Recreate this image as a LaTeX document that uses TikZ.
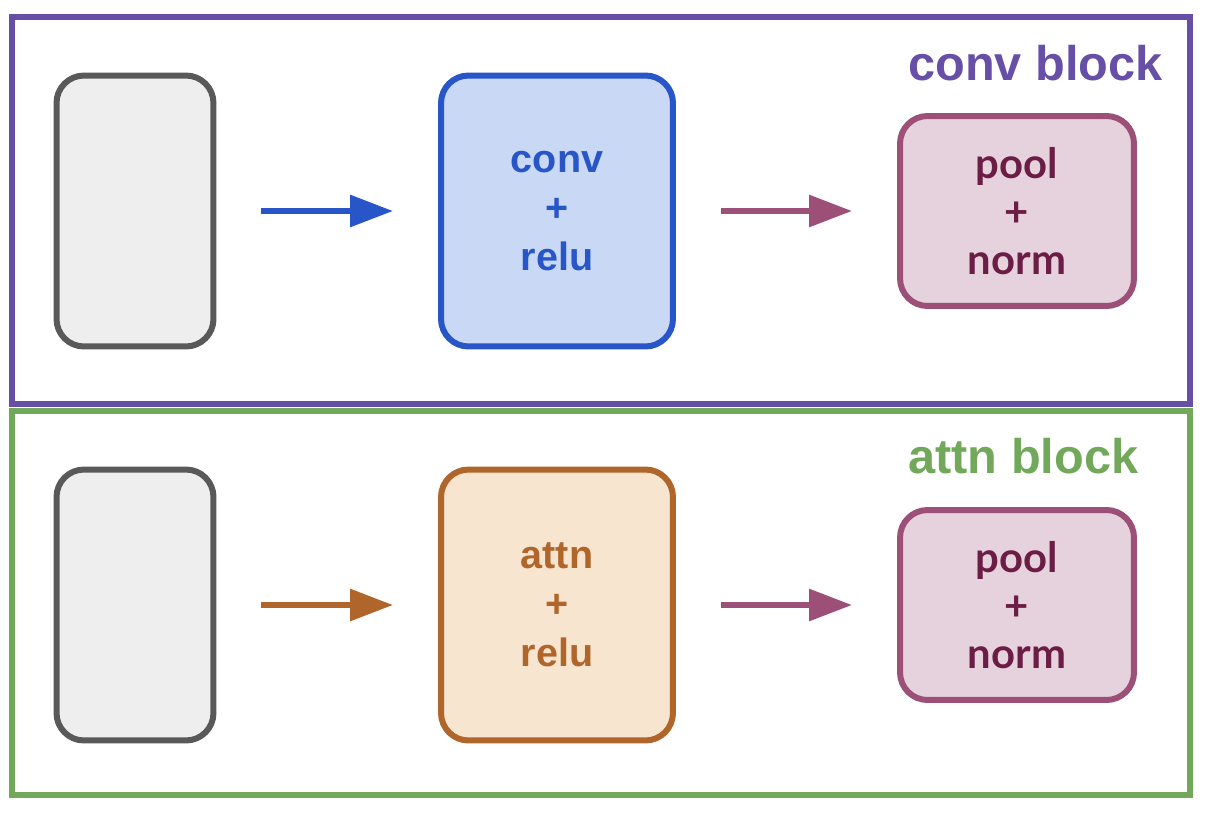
\documentclass[tikz,border=0pt]{standalone}
\usepackage{fontspec}
\setmainfont{Liberation Sans}
\newfontfamily\latofont{Lato}
\usetikzlibrary{arrows.meta}
\definecolor{convpurple}{HTML}{674EA7}
\definecolor{attngreen}{HTML}{72A85A}
\definecolor{inputgray}{HTML}{595959}
\definecolor{inputfill}{HTML}{EEEEEE}
\definecolor{convblue}{HTML}{2856C8}
\definecolor{convfill}{HTML}{C9D9F5}
\definecolor{attnorange}{HTML}{B0652A}
\definecolor{attnfill}{HTML}{F8E5D0}
\definecolor{poolpink}{HTML}{9C5078}
\definecolor{poolfill}{HTML}{E6D2DC}
\definecolor{pooltext}{HTML}{6B1D45}
\begin{document}
\begin{tikzpicture}[x=0.02cm, y=-0.02cm,
  box/.style={rounded corners=0.55cm, line width=0.12cm, outer sep=0pt, align=center,
    font=\bfseries\fontsize{22.5}{28}\selectfont},
  inputbox/.style={box, draw=inputgray, fill=inputfill, minimum width=3.14cm, minimum height=5.42cm},
  layerbox/.style={box, minimum width=4.64cm, minimum height=5.42cm},
  poolbox/.style={box, draw=poolpink, fill=poolfill, text=pooltext, minimum width=4.68cm, minimum height=3.8cm,
    font=\latofont\bfseries\fontsize{23.8}{27.5}\selectfont},
  flow/.style={-{Triangle[length=0.86cm, width=0.62cm]}, line width=0.12cm, shorten <=0.96cm, shorten >=0.96cm},
  title/.style={anchor=base west, inner sep=0pt, font=\bfseries\fontsize{27.7}{30}\selectfont}]
\useasboundingbox (0,0) rectangle (1206,812);
% outer blocks
\draw[convpurple, line width=0.12cm] (12,17) rectangle (1190,404);
\draw[attngreen, line width=0.12cm] (12,411) rectangle (1190,795);
\node[title, text=convpurple] (convtitle) at (908,80) {conv block};
\node[title, text=attngreen] (attntitle) at (908,473) {attn block};
% conv block
\node[inputbox] (convin) at (135,211) {};
\node[layerbox, draw=convblue, fill=convfill, text=convblue] (conv) at (557,211) {conv\\+\\relu};
\node[poolbox] (convpool) at (1017,211) {pool\\+\\norm};
\draw[flow, convblue] (convin) -- (conv);
\draw[flow, poolpink] (conv) -- (convpool);
% attn block
\node[inputbox] (attnin) at (135,605) {};
\node[layerbox, draw=attnorange, fill=attnfill, text=attnorange] (attn) at (557,605) {attn\\+\\relu};
\node[poolbox] (attnpool) at (1017,605) {pool\\+\\norm};
\draw[flow, attnorange] (attnin) -- (attn);
\draw[flow, poolpink] (attn) -- (attnpool);
\end{tikzpicture}
\end{document}
